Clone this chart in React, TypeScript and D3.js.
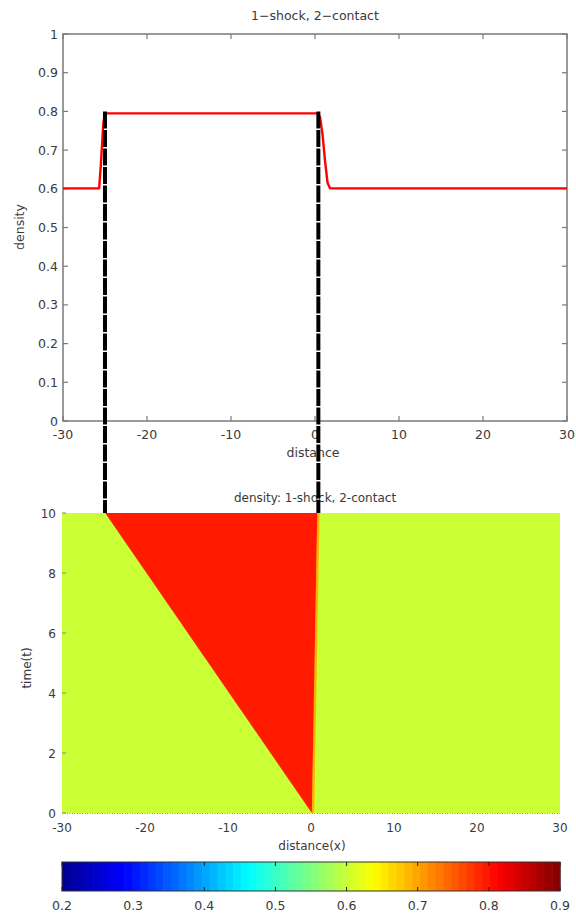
import React from "react";
import * as d3 from "d3";

// ---------- data ----------
const xTicks = [-30, -20, -10, 0, 10, 20, 30];
const densityTicks = [0, 0.1, 0.2, 0.3, 0.4, 0.5, 0.6, 0.7, 0.8, 0.9, 1];
const densityTickLabels = ["0", "0.1", "0.2", "0.3", "0.4", "0.5", "0.6", "0.7", "0.8", "0.9", "1"];

// density profile at t = 10
const profileX = [-30, -25.7, -25.5, -25.2, -25.0, 0.3, 0.6, 0.9, 1.2, 1.5, 1.8, 30];
const profileRho = [0.601, 0.601, 0.66, 0.77, 0.795, 0.795, 0.785, 0.74, 0.67, 0.615, 0.601, 0.601];

// wave positions (x-t diagram)
const waveTimes = [0, 10];
const shockX = [0.1, -24.8];
const contactX = [0.1, 0.75];
const ambientRho = 0.601;
const starRho = 0.795;
const bandRho = 0.69;
const timeTicks = [0, 2, 4, 6, 8, 10];

// connector lines (distance in upper plot)
const connectorX = [-25, 0.4];
const connectorRho = 0.8;

// colorbar
const cbarMin = 0.2;
const cbarMax = 0.9;
const cbarTicks = [0.2, 0.3, 0.4, 0.5, 0.6, 0.7, 0.8, 0.9];
const cbarLevels = 64;

// ---------- layout ----------
const W = 576;
const H = 914;
const top = { x0: 63, x1: 567, y0: 34, y1: 421 };
const bot = { x0: 62, x1: 560, y0: 513, y1: 813 };
const cb = { x0: 62, x1: 560, y0: 862, y1: 891 };
const FONT = "'DejaVu Sans', sans-serif";
const TXT = "#3a3a3a";
const AX = "#7a7a7a";

const jetStops = [0, 0.125, 0.375, 0.625, 0.875, 1];
const jetColors = ["#00008f", "#0000ff", "#00ffff", "#ffff00", "#ff0000", "#800000"];
const jetT = d3.scaleLinear<string>().domain(jetStops).range(jetColors).interpolate(d3.interpolateRgb).clamp(true);
const jet = (v: number) => jetT((v - cbarMin) / (cbarMax - cbarMin));

export default function App() {
  const xTop = d3.scaleLinear().domain([-30, 30]).range([top.x0, top.x1]);
  const yTop = d3.scaleLinear().domain([0, 1]).range([top.y1, top.y0]);
  const xBot = d3.scaleLinear().domain([-30, 30]).range([bot.x0, bot.x1]);
  const yBot = d3.scaleLinear().domain([0, 10]).range([bot.y1, bot.y0]);
  const xCb = d3.scaleLinear().domain([cbarMin, cbarMax]).range([cb.x0, cb.x1]);

  const profile = profileX.map((x, i) => [x, profileRho[i]] as [number, number]);
  const line = d3.line<[number, number]>().x((d) => xTop(d[0])).y((d) => yTop(d[1]));

  const wedge = waveTimes.map((t, i) => ({ t, s: shockX[i], c: contactX[i] }));
  const area = d3
    .area<{ t: number; s: number; c: number }>()
    .y((d) => yBot(d.t))
    .x0((d) => xBot(d.s))
    .x1((d) => xBot(d.c));
  const bandLine = d3
    .line<{ t: number; s: number; c: number }>()
    .x((d) => xBot(d.c) + 1.2)
    .y((d) => yBot(d.t));

  const levels = d3.range(cbarLevels);
  const step = (cbarMax - cbarMin) / cbarLevels;

  return (
    <svg width={W} height={H} style={{ display: "block", position: "absolute", left: 0, top: 0 }} fontFamily={FONT}>
      <rect width={W} height={H} fill="#fff" />

      {/* ---------- upper plot ---------- */}
      <text x={315} y={20} textAnchor="middle" fontSize={12.5} fill={TXT}>1−shock, 2−contact</text>
      <rect x={top.x0} y={top.y0} width={top.x1 - top.x0} height={top.y1 - top.y0} fill="none" stroke={AX} strokeWidth={1.5} />
      {xTicks.map((t) => (
        <g key={"xt" + t}>
          <line x1={xTop(t)} x2={xTop(t)} y1={top.y1} y2={top.y1 - 5} stroke={AX} strokeWidth={1.2} />
          <line x1={xTop(t)} x2={xTop(t)} y1={top.y0} y2={top.y0 + 5} stroke={AX} strokeWidth={1.2} />
          <text x={xTop(t)} y={439} textAnchor="middle" fontSize={12.5} fill={TXT}>{String(t)}</text>
        </g>
      ))}
      {densityTicks.map((t, i) => (
        <g key={"yt" + t}>
          <line x1={top.x0} x2={top.x0 + 5} y1={yTop(t)} y2={yTop(t)} stroke={AX} strokeWidth={1.2} />
          <line x1={top.x1} x2={top.x1 - 5} y1={yTop(t)} y2={yTop(t)} stroke={AX} strokeWidth={1.2} />
          <text x={58} y={yTop(t) + 4.5} textAnchor="end" fontSize={12.5} fill={TXT}>{densityTickLabels[i]}</text>
        </g>
      ))}
      <text x={313} y={457} textAnchor="middle" fontSize={12.5} fill={TXT}>distance</text>
      <text transform={`translate(24,227) rotate(-90)`} textAnchor="middle" fontSize={12.5} fill={TXT}>density</text>
      <path d={line(profile) ?? ""} fill="none" stroke="#ff0000" strokeWidth={2.4} strokeLinejoin="round" />

      {/* ---------- lower plot ---------- */}
      <text x={315} y={502} textAnchor="middle" fontSize={12} fill={TXT}>density: 1-shock, 2-contact</text>
      <rect x={bot.x0} y={bot.y0} width={bot.x1 - bot.x0} height={bot.y1 - bot.y0} fill={jet(ambientRho)} />
      <path d={bandLine(wedge) ?? ""} fill="none" stroke={jet(bandRho)} strokeWidth={2.4} />
      <path d={area(wedge) ?? ""} fill={jet(starRho)} />
      <line x1={bot.x0} x2={bot.x1} y1={bot.y1 + 0.5} y2={bot.y1 + 0.5} stroke="#888" strokeWidth={1} strokeDasharray="1 1.5" />
      {xTicks.map((t) => (
        <text key={"bx" + t} x={xBot(t)} y={832} textAnchor="middle" fontSize={12} fill={TXT}>{String(t)}</text>
      ))}
      {timeTicks.map((t) => (
        <g key={"by" + t}>
          <line x1={bot.x0} x2={bot.x0 + 4} y1={yBot(t)} y2={yBot(t)} stroke="#888" strokeWidth={1} />
          <text x={56} y={yBot(t) + 4.5} textAnchor="end" fontSize={12} fill={TXT}>{String(t)}</text>
        </g>
      ))}
      <text x={312} y={850} textAnchor="middle" fontSize={12} fill={TXT}>distance(x)</text>
      <text transform={`translate(31,668) rotate(-90)`} textAnchor="middle" fontSize={12} fill={TXT}>time(t)</text>

      {/* ---------- connectors ---------- */}
      {connectorX.map((x) => (
        <line key={"c" + x} x1={xTop(x)} x2={xTop(x)} y1={yTop(connectorRho)} y2={bot.y0} stroke="#000" strokeWidth={4} strokeDasharray="17 1.5" />
      ))}

      {/* ---------- colorbar ---------- */}
      {levels.map((i) => (
        <rect
          key={"cb" + i}
          x={xCb(cbarMin + i * step)}
          y={cb.y0}
          width={xCb(cbarMin + (i + 1) * step) - xCb(cbarMin + i * step) + 0.6}
          height={cb.y1 - cb.y0}
          fill={jetT((i + 0.5) / cbarLevels)}
        />
      ))}
      <rect x={cb.x0} y={cb.y0} width={cb.x1 - cb.x0} height={cb.y1 - cb.y0} fill="none" stroke="#333" strokeWidth={1} />
      {cbarTicks.map((t) => (
        <g key={"ct" + t}>
          <line x1={xCb(t)} x2={xCb(t)} y1={cb.y0} y2={cb.y0 + 4} stroke="#222" strokeWidth={1} />
          <line x1={xCb(t)} x2={xCb(t)} y1={cb.y1} y2={cb.y1 - 4} stroke="#222" strokeWidth={1} />
          <text x={xCb(t)} y={910} textAnchor="middle" fontSize={12.5} fill={TXT}>{t.toFixed(1)}</text>
        </g>
      ))}
    </svg>
  );
}
